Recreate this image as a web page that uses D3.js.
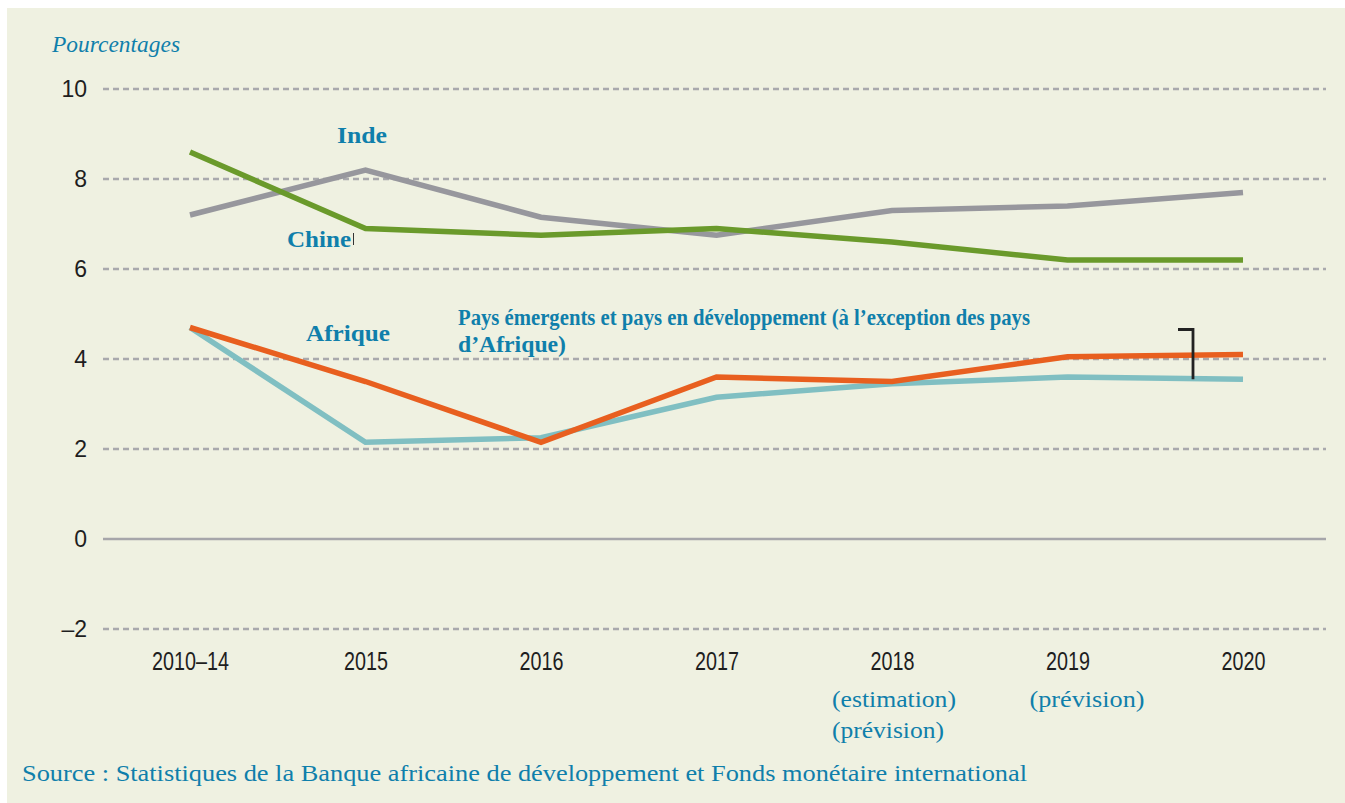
<!DOCTYPE html>
<html>
<head>
<meta charset="utf-8">
<script src="https://cdn.jsdelivr.net/npm/d3@7"></script>
<style>
  body { margin: 0; background: #fff; }
  svg { display: block; }
</style>
</head>
<body>
<svg id="chart" width="1345" height="803"></svg>
<script>
// data
const categories = ['2010–14', '2015', '2016', '2017', '2018', '2019', '2020'];
const inde = [7.2, 8.2, 7.15, 6.75, 7.3, 7.4, 7.7];
const chine = [8.6, 6.9, 6.75, 6.9, 6.6, 6.2, 6.2];
const afrique = [4.7, 3.5, 2.15, 3.6, 3.5, 4.05, 4.1];
const emergents = [4.7, 2.15, 2.25, 3.15, 3.45, 3.6, 3.55];
const y_ticks = [-2, 0, 2, 4, 6, 8, 10];
const sub_labels = [
  { cat: '2018', dx: -60, lines: ['(estimation)', '(prévision)'], widths: [124, 112] },
  { cat: '2019', dx: -38, lines: ['(prévision)'], widths: [115] }
];

const blue = '#0f7fab';
const serif = '"Liberation Serif", "DejaVu Serif", serif';
const sans = '"Liberation Sans", Arial, sans-serif';

const svg = d3.select('#chart');

svg.append('rect')
  .attr('x', 7).attr('y', 8)
  .attr('width', 1338).attr('height', 795)
  .attr('fill', '#eff1e1');

const x = d3.scalePoint().domain(categories).range([190, 1243]);
const y = d3.scaleLinear().domain([-2, 10]).range([629, 89]);

// grid
svg.append('g')
  .selectAll('line')
  .data(y_ticks)
  .enter()
  .append('line')
  .attr('x1', 103).attr('x2', 1326)
  .attr('y1', d => y(d)).attr('y2', d => y(d))
  .attr('stroke', d => d === 0 ? '#a6a6aa' : '#a9a9ad')
  .attr('stroke-width', 2.5)
  .attr('stroke-dasharray', d => d === 0 ? null : '6 4');

// y axis labels
const y_axis = d3.axisLeft(y).tickValues(y_ticks).tickSize(0).tickPadding(0)
  .tickFormat(d => d < 0 ? '–' + Math.abs(d) : d);
svg.append('g')
  .attr('transform', 'translate(87,0)')
  .call(y_axis)
  .call(g => g.select('.domain').remove())
  .selectAll('text')
  .attr('font-family', sans)
  .attr('font-size', 23)
  .attr('fill', '#1e1e1e');

// x axis labels (condensed)
const x_axis = d3.axisBottom(x).tickSize(0).tickPadding(0);
svg.append('g')
  .attr('transform', 'translate(0,652)')
  .call(x_axis)
  .call(g => g.select('.domain').remove())
  .selectAll('text')
  .attr('font-family', sans)
  .attr('font-size', 26)
  .attr('transform', 'scale(0.76,1)')
  .attr('fill', '#1e1e1e');

// sub labels under x axis
sub_labels.forEach(s => {
  s.lines.forEach((t, i) => {
    svg.append('text')
      .attr('x', x(s.cat) + s.dx)
      .attr('y', 707 + i * 31)
      .attr('font-family', serif)
      .attr('font-size', 23.5)
      .attr('textLength', s.widths[i])
      .attr('lengthAdjust', 'spacingAndGlyphs')
      .attr('fill', blue)
      .text(t);
  });
});

// lines
const line = d3.line()
  .x((d, i) => x(categories[i]))
  .y(d => y(d));

const series = [
  { name: 'inde', values: inde, color: '#97979d' },
  { name: 'chine', values: chine, color: '#6a9a2b' },
  { name: 'emergents', values: emergents, color: '#80bfc2' },
  { name: 'afrique', values: afrique, color: '#e85f1f' }
];

svg.append('g')
  .selectAll('path')
  .data(series)
  .enter()
  .append('path')
  .attr('d', d => line(d.values))
  .attr('fill', 'none')
  .attr('stroke', d => d.color)
  .attr('stroke-width', 5.5)
  .attr('stroke-linejoin', 'miter');

// series labels
const labels = [
  { text: 'Inde', x: 337, y: 143, w: 50 },
  { text: 'Chine', x: 287, y: 247, w: 64 },
  { text: 'Afrique', x: 306, y: 341, w: 84 },
  { text: 'Pays émergents et pays en développement (à l’exception des pays', x: 458, y: 325, w: 572 },
  { text: 'd’Afrique)', x: 458, y: 352, w: 108 }
];
svg.append('g')
  .selectAll('text')
  .data(labels)
  .enter()
  .append('text')
  .attr('x', d => d.x)
  .attr('y', d => d.y)
  .attr('font-family', serif)
  .attr('font-weight', 'bold')
  .attr('font-size', 24)
  .attr('textLength', d => d.w)
  .attr('lengthAdjust', 'spacingAndGlyphs')
  .attr('fill', blue)
  .text(d => d.text);

// small stray tick after "Chine"
svg.append('line')
  .attr('x1', 353.5).attr('x2', 353.5)
  .attr('y1', 233).attr('y2', 245)
  .attr('stroke', '#333')
  .attr('stroke-width', 1);

// bracket
svg.append('path')
  .attr('d', `M1178,${y(4.7) + 2}H1193V${y(3.55)}`)
  .attr('fill', 'none')
  .attr('stroke', '#222')
  .attr('stroke-width', 2.8);

// titles
svg.append('text')
  .attr('x', 52).attr('y', 52)
  .attr('font-family', serif)
  .attr('font-style', 'italic')
  .attr('font-size', 23.5)
  .attr('textLength', 128)
  .attr('lengthAdjust', 'spacingAndGlyphs')
  .attr('fill', blue)
  .text('Pourcentages');

svg.append('text')
  .attr('x', 22).attr('y', 781)
  .attr('font-family', serif)
  .attr('font-size', 24)
  .attr('textLength', 1005)
  .attr('lengthAdjust', 'spacingAndGlyphs')
  .attr('fill', blue)
  .text('Source : Statistiques de la Banque africaine de développement et Fonds monétaire international');
</script>
</body>
</html>
